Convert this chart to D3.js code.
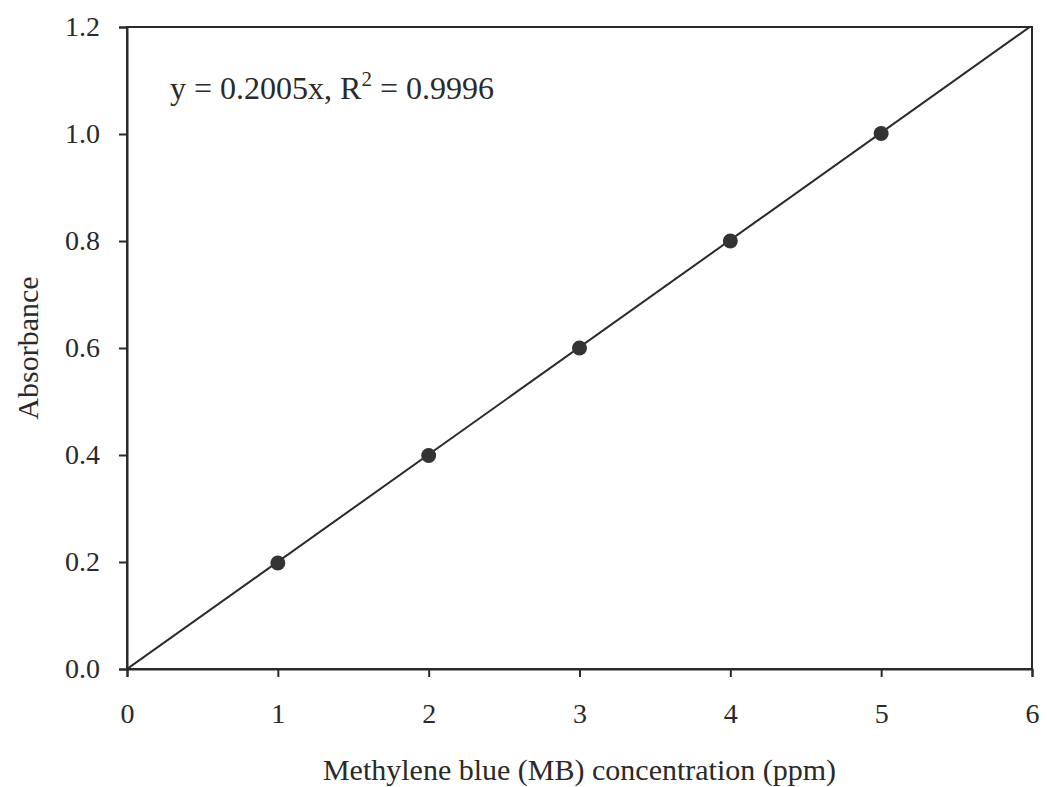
<!DOCTYPE html>
<html><head><meta charset="utf-8">
<script src="https://cdn.jsdelivr.net/npm/d3@7"></script>
<style>body{margin:0;background:#fff}</style>
</head><body>
<svg id="c" width="1047" height="787"></svg>
<script>
const concentration = [1, 2, 3, 4, 5];
const absorbance = [0.198, 0.399, 0.600, 0.800, 1.001];
const slope = 0.2005;
const xTicks = [0, 1, 2, 3, 4, 5, 6];
const yTicks = [0.0, 0.2, 0.4, 0.6, 0.8, 1.0, 1.2];
const equationText = "y = 0.2005x, R";
const r2Text = " = 0.9996";

const W = 1047, H = 787;
const m = {l:127, t:27, r:15, b:118};
const svg = d3.select("#c");
const x = d3.scaleLinear().domain([0,6]).range([m.l, W-m.r]);
const y = d3.scaleLinear().domain([0,1.2]).range([H-m.b, m.t]);
const font = "'Liberation Serif','Times New Roman',serif";
const ink = "#2a2a2a";

svg.append("defs").append("clipPath").attr("id","clip")
  .append("rect").attr("x",m.l).attr("y",m.t).attr("width",W-m.l-m.r).attr("height",H-m.t-m.b);

// frame
svg.append("rect").attr("x",m.l).attr("y",m.t).attr("width",W-m.l-m.r).attr("height",H-m.t-m.b)
  .attr("fill","none").attr("stroke",ink).attr("stroke-width",2);

const xa = svg.append("g").attr("transform",`translate(0,${H-m.b})`)
  .call(d3.axisBottom(x).tickValues(xTicks).tickFormat(d3.format("d")).tickSize(8).tickPadding(26));
const ya = svg.append("g").attr("transform",`translate(${m.l},0)`)
  .call(d3.axisLeft(y).tickValues(yTicks).tickFormat(d3.format(".1f")).tickSize(8).tickPadding(19));
[xa,ya].forEach(g=>{
  g.select(".domain").attr("stroke",ink).attr("stroke-width",2);
  g.selectAll(".tick line").attr("stroke",ink).attr("stroke-width",2);
  g.selectAll(".tick text").attr("fill",ink).style("font-family",font).style("font-size","28px");
});

// fit line
const lineData = [0, 6].map(v => [v, slope*v]);
svg.append("path").attr("clip-path","url(#clip)")
  .attr("d", d3.line().x(d=>x(d[0])).y(d=>y(d[1]))(lineData))
  .attr("fill","none").attr("stroke",ink).attr("stroke-width",2);

// points
svg.selectAll("circle.pt").data(concentration.map((c,i)=>[c,absorbance[i]])).enter()
  .append("circle").attr("class","pt").attr("cx",d=>x(d[0])).attr("cy",d=>y(d[1])).attr("r",7.5)
  .attr("fill","#333");

// equation
const eq = svg.append("text").attr("x",170).attr("y",99).attr("fill",ink)
  .style("font-family",font).style("font-size","32px");
eq.append("tspan").text(equationText);
eq.append("tspan").attr("dy",-13).style("font-size","21px").text("2");
eq.append("tspan").attr("dy",13).text(r2Text);

// axis titles
svg.append("text").attr("x",(m.l+W-m.r)/2).attr("y",780).attr("text-anchor","middle").attr("fill",ink)
  .style("font-family",font).style("font-size","30px").text("Methylene blue (MB) concentration (ppm)");
svg.append("text").attr("transform",`translate(38,${(m.t+H-m.b)/2}) rotate(-90)`).attr("text-anchor","middle").attr("fill",ink)
  .style("font-family",font).style("font-size","30px").text("Absorbance");
</script>
</body></html>
